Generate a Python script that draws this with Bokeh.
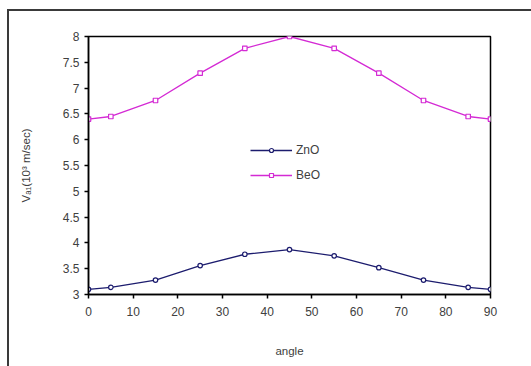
from bokeh.plotting import figure
from bokeh.models import FixedTicker, Legend, LegendItem
from bokeh.layouts import column
from bokeh.embed import file_html
from bokeh.resources import INLINE

angles = [0, 5, 15, 25, 35, 45, 55, 65, 75, 85, 90]
zno = [3.10, 3.14, 3.28, 3.56, 3.78, 3.87, 3.75, 3.52, 3.28, 3.14, 3.10]
beo = [6.40, 6.45, 6.76, 7.29, 7.77, 8.00, 7.77, 7.29, 6.76, 6.45, 6.40]
x_ticks = [0, 10, 20, 30, 40, 50, 60, 70, 80, 90]
y_ticks = [3, 3.5, 4, 4.5, 5, 5.5, 6, 6.5, 7, 7.5, 8]
y_tick_labels = ["3", "3.5", "4", "4.5", "5", "5.5", "6", "6.5", "7", "7.5", "8"]
x_title = "angle"
y_title = "Vₐ₁(10³ m/sec)"

zno_color = "#1c1c6e"
beo_color = "#d42ad4"
font = "Liberation Sans"
txt = "#404040"

p = figure(width=522, height=355, x_range=(0, 90), y_range=(3, 8),
           output_backend="svg", toolbar_location=None,
           min_border_left=79, min_border_right=41, min_border_top=25,
           min_border_bottom=72)
p.background_fill_color = "white"
p.border_fill_color = "white"
p.outline_line_color = "black"
p.outline_line_width = 1.5
p.grid.visible = False

l1 = p.line(angles, zno, line_color=zno_color, line_width=1.3)
m1 = p.scatter(angles, zno, marker="circle", size=4.5, line_color=zno_color,
               fill_color="white", line_width=1.2)
l2 = p.line(angles, beo, line_color=beo_color, line_width=1.3)
m2 = p.scatter(angles, beo, marker="square", size=4.5, line_color=beo_color,
               fill_color="white", line_width=1.2)

p.xaxis.ticker = FixedTicker(ticks=x_ticks)
p.yaxis.ticker = FixedTicker(ticks=y_ticks)
p.yaxis.major_label_overrides = {t: s for t, s in zip(y_ticks, y_tick_labels)}
for ax in (p.xaxis, p.yaxis):
    ax.axis_line_color = "black"
    ax.axis_line_width = 1.5
    ax.major_tick_line_color = "black"
    ax.major_tick_line_width = 1.5
    ax.major_tick_out = 4
    ax.major_tick_in = 0
    ax.minor_tick_line_color = None
    ax.major_label_text_font = font
    ax.major_label_text_font_size = "12px"
    ax.major_label_text_color = txt
    ax.axis_label_text_font = font
    ax.axis_label_text_font_size = "11.5px"
    ax.axis_label_text_color = txt
    ax.axis_label_text_font_style = "normal"

p.xaxis.axis_label = x_title
p.xaxis.major_label_standoff = 8
p.xaxis.axis_label_standoff = 26
p.yaxis.axis_label = y_title
p.yaxis.axis_label_standoff = 28

legend = Legend(items=[LegendItem(label="ZnO", renderers=[l1, m1]),
                       LegendItem(label="BeO", renderers=[l2, m2])],
                location=(162, 109), border_line_color=None,
                background_fill_alpha=0, padding=0, spacing=5,
                glyph_width=42, label_height=20, glyph_height=10,
                label_text_font=font, label_text_font_size="12px",
                label_text_color=txt, label_standoff=4)
p.add_layout(legend)

layout = column(p, margin=(9, 0, 0, 7),
                styles={"border-left": "2px solid #3a3a3a",
                        "border-top": "2px solid #3a3a3a",
                        "background-color": "white"})

open("out.html", "w").write(file_html(layout, INLINE))
